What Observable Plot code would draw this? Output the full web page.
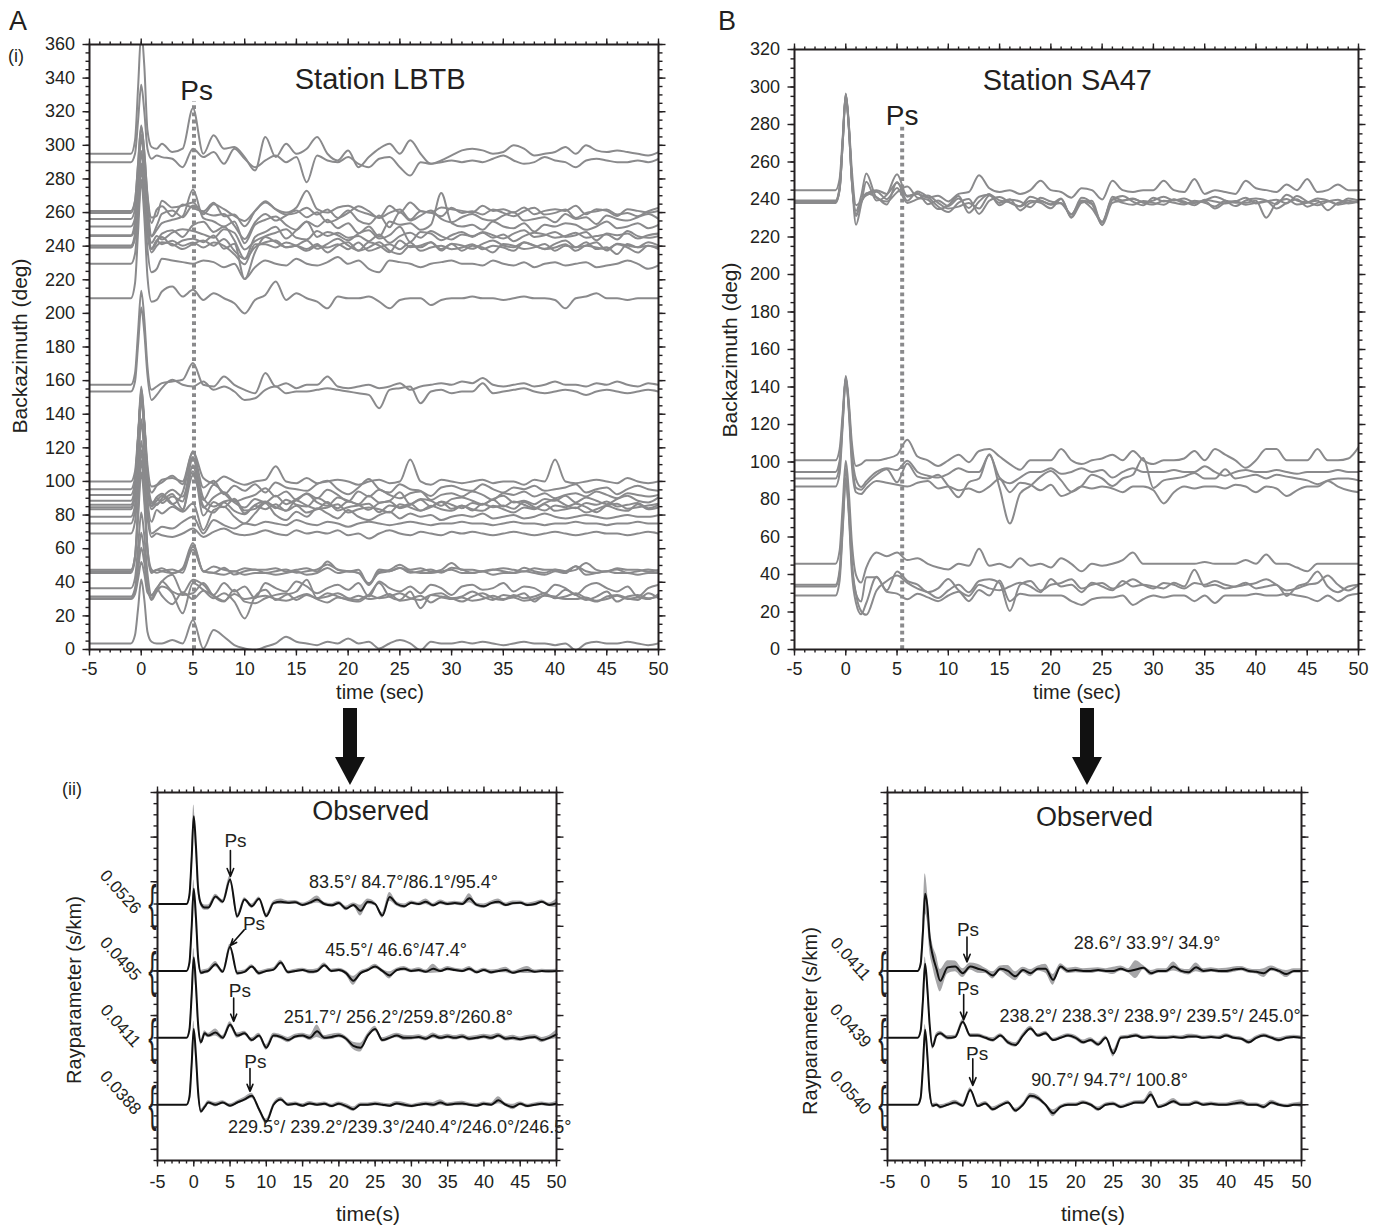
<!DOCTYPE html>
<html>
<head>
<meta charset="utf-8">
<script src="https://cdn.jsdelivr.net/npm/d3@7"></script>
<script src="https://cdn.jsdelivr.net/npm/@observablehq/plot@0.6"></script>
<style>
html,body{margin:0;padding:0;background:#fff;}
#root{position:relative;width:1381px;height:1226px;overflow:hidden;background:#fff;font-family:"Liberation Sans",Arial,Helvetica,sans-serif;color:#231f20;}
.pl{position:absolute;}
.pl svg{max-width:none !important;}
.lab{position:absolute;white-space:nowrap;line-height:1;}
.shaft{position:absolute;background:#111;}
.head{position:absolute;width:0;height:0;border-left:15px solid transparent;border-right:15px solid transparent;border-top:28px solid #111;}
</style>
</head>
<body>
<div id="root"></div>
<script>
// ---------------- time samples (s) ----------------
const G = [-5,-1,-0.6,-0.3,0,0.3,0.6,1,1.5,2,3,4,5,6,7,8,9,10,11,12,13,14,15,16,17,18,19,20,21,22,23,24,25,26,27,28,29,30,31,32,33,34,35,36,37,38,39,40,41,42,43,44,45,46,47,48,49,50];

// ---------------- Panel A(i): station LBTB, deviations (deg) from back-azimuth ----------------
const A_bases = [295,290,261,259.8,256.2,251.7,246.5,246,240.4,239.3,239.2,229.5,209,157.5,153.5,100,95.4,92,88.5,86.1,84.7,83.5,79,75,69,47.4,46.6,45.5,36.5,31.5,30.5,30,3.6];
const A_295 = [0,0,8,40,72,52,14,4,3, 6,1,3,27,0,11,3,4,-2,-10, 10,-2,6,0,3,10,0,-4,2,-8, -2,3,6,0,8,0,-6,-4,-1,2, 3,2,0,1,5,3,-1,0,1,4, 0,5,2,1,2,1,0,-1,1];
const A_290 = [0,0,5,25,46,30,8,2,4, 3,2,-3,8,3,6,-1,8,2,-3, 1,4,0,3,-12,4,1,0,3,-1, -3,2,3,-3,-8,0,-1,0,1,0, 1,0,2,4,1,-1,0,3,1,0, -3,1,2,1,0,0,1,0,2];
const A_261 = [0,0,6,28,50,35,10,-4,-3, 6,2,3,5,-2,4,1,-3,-6,0, 5,1,-1,2,12,1,-1,2,3,0, -2,-4,3,-1,5,0,-1,2,1,0, -1,3,0,1,-1,2,-2,0,1,0, 3,-2,1,0,-3,1,0,-1,0];
const A_260 = [0,0,7,30,52,36,10,-6,2, 4,-2,5,3,1,6,-2,-1,-8,1, 7,2,-1,0,3,-1,2,-3,0,4, 1,-3,0,2,-4,1,0,-2,3,0, 1,-1,2,0,-2,1,3,-1,0,2, -3,0,1,2,-1,0,-2,1,3];
const A_256 = [0,0,6,27,48,33,9,-10,-4, 3,5,1,8,4,2,3,-4,-12,-2, 3,-1,2,5,1,4,-2,0,5,-1, -3,2,-5,4,-1,2,5,0,-2,1, 3,0,-1,2,4,-1,0,1,-2,3, 0,1,-3,2,0,-1,1,3,0];
const A_252 = [0,0,5,25,45,31,8,-6,-2, 2,4,6,22,5,3,0,3,-10,1, 4,6,1,-2,3,0,4,-1,2,-4, 0,-6,3,1,2,-2,1,20,2,0, 1,-2,3,0,-1,2,-3,1,0,2, 1,-2,0,3,-1,0,2,-1,1];
const A_2465 = [0,0,8,34,60,42,12,-8,-4, 1,3,-1,6,8,2,5,-3,-14,-1, 2,5,-2,3,8,-1,2,0,-3,1, 3,-2,0,5,-4,2,1,-3,0,2, -1,2,0,-2,1,3,-1,0,2,-1, 0,2,-3,1,0,1,-2,0,1];
const A_246 = [0,0,5,22,40,28,8,-4,0, -2,2,4,3,1,-1,4,2,-8,-3, 0,2,4,-1,-2,3,0,2,-1,0, -3,1,-4,0,2,-1,3,0,-2,1, 0,2,-1,1,-3,0,2,1,-1,0, 2,-1,0,1,-2,3,0,-1,0];
const A_2404 = [0,0,7,31,55,38,11,-2,3, 5,0,3,4,2,6,-2,1,-20,-4, 5,2,-1,0,3,-2,1,4,0,-3, 2,0,-4,3,-1,0,2,-3,1,0, -2,1,3,0,-1,2,0,-2,1,3, -1,0,2,-3,1,0,-1,2,0];
const A_2393 = [0,0,6,25,45,31,9,-3,1, 3,2,-1,2,4,1,5,-2,-7,0, 3,4,0,1,-1,2,-3,1,3,-2, 0,3,-2,-4,1,0,3,-1,2,-2, 1,0,-3,2,1,-1,0,2,-2,1, 0,3,-1,0,-4,2,0,1,-1];
const A_2392 = [0,0,6,28,50,35,10,-1,4, 2,4,1,3,0,3,1,-4,-10,2, 2,0,3,1,-2,1,0,2,-1,3, -2,0,2,-1,3,-2,0,1,-1,0, 2,-1,1,0,-2,3,1,-1,0,2, -2,1,0,-1,2,0,-3,1,0];
const A_2295 = [0,0,6,28,50,35,9,-5,-3, 3,2,1,0,2,1,-2,0,-9,-2, 2,0,-1,3,0,-1,1,4,0,2, -3,-5,2,1,0,-2,0,1,2,0, 0,-1,2,0,-1,1,-2,0,1,-1, 0,1,-2,-1,0,2,0,-3,-1];
const A_209 = [0,0,9,40,70,48,13,-2,-1, 4,7,1,5,-1,3,0,-3,-9,-1, 2,10,-1,3,0,-2,-6,1,0,0, 1,-2,-6,-1,0,0,-4,-1,0,0, 1,0,0,-1,0,1,0,0,-1,-6, 0,1,3,0,0,-1,0,0,0];
const A_157 = [0,0,7,32,56,39,11,-3,-1, 1,2,3,13,0,-1,5,0,-3,-5, 7,-1,1,-2,0,0,5,-1,-2,-1, 0,-2,-1,1,-3,-1,0,1,0,2, 1,4,0,-1,0,1,-1,0,2,0, 0,-1,1,0,2,0,-1,1,0];
const A_153 = [0,0,6,28,50,35,10,-5,-2, 2,7,4,3,6,1,3,0,-5,-4, 1,3,-1,0,0,1,2,1,0,-1, -2,-10,1,2,3,-7,0,1,-1,0, 0,5,-1,0,1,2,0,-1,0,1, 0,-2,0,1,0,-1,0,1,0];
const A_100 = [0,0,6,28,50,35,10,-3,-2, 1,2,0,18,2,-1,3,0,-2,0, 1,9,0,-1,2,-1,0,1,0,-2, 0,1,-1,0,13,0,-2,1,0,-1, 0,1,-1,0,0,-2,1,0,13,0, -1,0,1,0,-1,2,0,-1,0];
const A_954 = [0,0,7,31,55,38,11,-2,2, 4,8,3,22,1,5,-3,2,-1,3, -2,4,1,0,-1,3,5,0,-3,1, 6,0,-2,3,0,-1,-4,1,2,0, -1,3,0,-2,1,0,2,-1,0,1, 3,-2,0,1,-3,0,2,0,-1];
const A_92 = [0,0,8,34,60,42,12,-4,-6, -2,3,-1,14,-3,6,1,-4,-2,0, 4,-1,2,-3,1,-2,3,0,-4,2, -1,3,0,-2,1,2,-3,0,1,-1, 2,0,-3,1,0,2,-1,1,-2,0, 1,-1,2,0,-2,1,0,-1,0];
const A_885 = [0,0,9,38,68,47,13,-3,0, 3,-2,5,26,-4,2,5,-1,-4,1, -1,3,-2,1,4,-1,-3,2,0,-2, 3,-1,0,5,-2,1,0,-3,1,2, 0,-2,1,3,-1,0,-2,1,0,3, -1,2,0,-2,1,3,0,-1,2];
const A_861 = [0,0,8,35,62,43,12,-1,4, 1,5,2,28,4,-1,2,3,-5,0, 2,-2,3,0,-1,4,1,-2,2,0, -3,1,2,-2,0,3,-1,2,0,-2, 1,0,3,-1,2,0,-2,1,3,0, -2,1,0,2,-1,0,1,-2,0];
const A_847 = [0,0,9,39,70,49,14,2,6, 8,2,-2,25,-5,3,0,5,-2,-1, 3,0,-2,4,1,-1,3,-2,0,1, 2,-3,1,0,2,-2,0,3,-1,1, -2,2,0,1,-1,3,0,-2,1,0, 2,0,-3,1,2,-1,0,1,2];
const A_835 = [0,0,8,37,66,46,13,0,3, 5,9,0,20,2,-2,4,-1,-3,2, 0,3,-1,2,-2,0,1,3,-2,0, 1,0,-2,3,1,-1,2,0,-1,2, 0,-1,2,0,-2,1,0,3,-1,0, 1,-2,0,2,0,-1,3,0,1];
const A_79 = [0,0,7,32,58,40,11,-3,4, 2,6,3,8,-8,4,6,0,-4,2, 8,1,-2,3,0,5,2,-1,4,0, -2,1,3,-1,2,0,1,-2,0,1, 0,2,-1,0,1,-1,0,2,0,-1, 0,1,0,-1,0,1,0,0,1];
const A_75 = [0,0,8,34,60,42,12,-6,-4, -2,-3,1,4,-6,2,-1,-3,0,-1, 1,0,-1,2,0,-1,1,0,-2,0, 1,0,-1,0,1,0,-1,0,0,1, 0,0,-1,0,1,0,0,-1,0,0, 1,0,0,-1,0,0,1,0,0];
const A_69 = [0,0,7,31,55,38,10,-2,0, -1,-2,0,3,-2,1,3,0,-1,0, 2,0,-1,2,0,1,0,2,-1,0, -3,0,2,0,-1,1,0,-1,1,0, 1,0,-1,0,1,0,-1,0,1,0, -1,0,1,0,0,-1,0,1,0];
const A_474 = [0,0,8,36,65,45,13,-1,0, 1,-2,1,16,-1,2,0,-1,1,0, 0,1,-1,0,1,-1,5,0,-1,0, -9,-1,0,3,0,1,-1,0,4,0, 0,-1,0,1,0,-1,1,0,0,-1, 0,4,0,-1,1,0,0,-1,0];
const A_466 = [0,0,9,40,72,50,14,1,-1, 0,1,-1,15,0,-1,2,-2,0,1, -1,0,1,-1,0,1,4,1,0,-1, -8,1,0,2,-1,0,1,-1,2,1, -1,0,1,0,-1,2,0,-1,1,0, 3,0,-1,0,1,-1,0,1,0];
const A_455 = [0,0,8,33,60,42,12,0,2, 1,0,2,14,1,0,-1,1,-1,0, 0,-1,0,1,-1,0,3,0,1,0, -6,0,1,3,1,0,0,1,2,0, 0,1,-1,0,0,1,0,-1,1,0, 4,-1,0,1,0,0,-1,0,0];
const A_365 = [0,0,6,25,45,31,9,-4,0, 4,8,-3,5,2,-4,3,-2,1,-6, 3,0,-2,4,1,-3,0,2,-1,3, -5,4,0,-2,1,-3,2,0,-4,1, 2,-1,0,3,-2,1,0,-3,2,0, -4,1,3,0,-2,1,-5,0,2];
const A_315 = [0,0,5,21,38,26,7,-2,3, 6,2,-10,8,4,-1,2,-3,-13,0, 4,-2,1,3,10,-1,2,0,-2,-3, 1,8,0,-2,3,-7,1,2,-1,0, 3,0,-2,1,0,2,-3,1,0,4, 1,-2,0,3,-3,0,1,-1,0];
const A_305 = [0,0,4,17,30,21,6,0,5, 10,4,2,3,9,1,-2,5,-2,-3, 0,2,3,-1,2,0,1,3,0,-1, 2,0,1,3,0,-1,2,1,0,-2, 1,3,0,-1,2,0,1,3,0,1, 3,0,-2,1,2,0,-1,3,0];
const A_30 = [0,0,3,12,22,15,4,2,6, 2,-3,4,0,5,2,-1,3,0,1, 2,0,-1,1,3,0,-2,1,0,2, 0,1,3,-1,0,2,-2,1,0,1, -1,0,2,0,1,-1,0,2,1,0, 0,1,-1,0,2,0,1,0,3];
const A_4 = [0,0,5,21,38,26,7,1,0, 0,2,0,14,-3,8,4,-1,-3,-4, -2,0,4,1,0,-1,1,0,3,0, 1,-3,0,2,0,-4,1,0,0,1, 0,1,0,-1,0,1,0,0,-1,0, -4,0,1,0,0,1,0,-1,0];
const A_traces = [A_295,A_290,A_261,A_260,A_256,A_252,A_2465,A_246,A_2404,A_2393,A_2392,A_2295,A_209,A_157,A_153,A_100,A_954,A_92,A_885,A_861,A_847,A_835,A_79,A_75,A_69,A_474,A_466,A_455,A_365,A_315,A_305,A_30,A_4];

// ---------------- Panel B(i): station SA47 ----------------
const B_bases = [245,239.5,238.9,238.3,238.2,100.9,94.7,91.2,86.9,45.7,34.5,33.6,28.8];
const B_245 = [0,0,6,28,51,35,10,-8,-6, -2,0,-2,4,-3,-2,-4,-3,-6,-2, -1,8,1,-1,0,-2,0,5,0,-1, -4,1,0,-5,5,0,-1,0,0,5, 0,-1,6,-2,0,-1,-2,5,1,0, -1,3,0,6,-1,0,3,0,0];
const B_2395 = [0,0,7,32,57,40,11,-13,-2, 10,0,3,14,2,4,-2,0,-3,1, -4,2,3,0,-1,-3,2,0,-2,1, -9,0,-2,-13,2,0,1,-1,0,2, 0,1,-1,0,2,0,-3,0,1,0, -2,3,0,-1,1,0,-2,1,0];
const B_2389 = [0,0,7,31,56,39,11,-5,3, 15,2,0,5,8,2,1,-4,-2,3, -6,0,4,-2,1,0,-3,2,0,-1, -7,2,-1,-11,1,3,0,-2,2,0, 1,0,-2,1,0,-1,0,2,-1,0, 1,-1,3,0,-2,0,1,-1,0];
const B_2383 = [0,0,7,32,57,40,11,-6,0, 5,3,-1,11,1,6,3,-2,-5,0, 2,-6,1,3,0,-2,1,0,-3,2, -8,0,1,-12,0,1,2,0,-1,1, 0,-1,1,0,-2,1,0,0,1,-8, 0,2,-1,0,1,-4,0,1,0];
const B_2382 = [0,0,7,32,58,40,11,-7,1, 4,6,2,8,0,2,4,0,-3,-2, 0,-3,4,0,2,-4,0,1,-1,0, -6,1,-3,-10,2,0,-1,1,0,-1, 2,0,0,1,-3,0,1,-1,0,1, -3,0,2,-2,0,1,-1,0,1];
const B_1009 = [0,0,6,25,45,31,9,-3,-2, 0,0,1,3,11,2,0,-3,0,3, -1,5,6,2,-2,-5,0,0,0,6, 0,-2,0,1,3,0,5,0,-2,0, 0,1,5,0,6,3,0,-4,0,6, 6,0,0,0,6,0,0,1,7];
const B_947 = [0,0,6,28,50,35,10,-4,-8, -5,0,2,1,6,0,-2,-3,-1,2, 0,0,9,-3,-6,-3,0,0,2,-1, 0,2,0,1,-3,0,2,0,0,0, 1,0,0,3,0,-2,0,1,0,0, 1,0,-1,0,0,0,1,0,0];
const B_912 = [0,0,7,30,54,37,11,-5,-6, -3,2,5,-2,8,1,0,2,-4,-10, -2,0,13,-5,-24,-8,-4,1,4,-1, -7,-4,2,0,-4,0,2,11,-5,-1, 0,1,3,0,0,5,0,1,2,0, 2,1,0,-1,-3,-1,0,0,-1];
const B_869 = [0,0,7,33,58,40,11,-3,-4, -1,3,2,1,0,2,3,-1,0,-2, -1,-3,0,4,-3,2,1,-2,1,-5, -3,0,-1,0,-1,-3,0,0,-2,-9, -3,0,-1,0,0,-1,1,0,-3,0, -1,-5,-2,0,0,3,0,-2,-3];
const B_457 = [0,0,7,31,55,38,11,-6,-10, -2,6,4,6,2,3,0,-2,-3,0, -1,8,-1,0,-2,3,-1,0,-2,3, 0,-4,0,-1,0,2,6,0,0,0, 0,0,0,1,0,0,0,2,0,5, 0,0,-2,-4,0,0,0,0,0];
const B_345 = [0,0,8,35,62,43,12,-5,-14, -16,-3,2,5,1,-2,-4,-7,-3,0, -4,2,3,1,-14,0,2,-3,0,1, 3,-2,0,1,-2,0,3,0,-2,1, 0,-2,1,0,2,0,-1,0,1,3, 0,-3,-2,0,1,5,0,-3,0];
const B_336 = [0,0,7,32,58,40,11,-4,-8, 5,5,-2,8,3,1,-3,-1,4,-2, -5,1,-1,-2,0,2,0,-3,4,0, 1,-3,2,0,-2,3,0,1,0,-1, 2,0,9,0,1,-1,0,2,-1,0, 1,-5,0,2,8,0,-3,0,1];
const B_288 = [0,0,8,35,62,43,12,-4,-10, -4,10,2,1,-2,1,-1,-3,0,2, -3,3,0,8,-3,1,0,0,0,0, -3,-5,-2,-1,-1,0,-5,-2,0,-1, 0,0,-3,0,-4,0,0,0,1,0, 0,1,0,-1,-3,0,-3,0,1];
const B_traces = [B_245,B_2395,B_2389,B_2383,B_2382,B_1009,B_947,B_912,B_869,B_457,B_345,B_336,B_288];

// ---------------- Panel A(ii): observed stacks (trace units), offsets and spreads ----------------
const L_offsets = [5.5,4,2.5,1];
const L_rayp = ["0.0526","0.0495","0.0411","0.0388"];
const L_1 = [0,0,0.2,1.0,1.97,1.3,0.35,0,-0.08, -0.08,0.17,0.05,0.55,-0.28,0.1,-0.05,0.12,-0.27,0.02, 0.05,0.03,0.04,-0.02,0.03,0.1,0,-0.03,0.02,-0.1, -0.02,-0.15,0.05,0,-0.26,0.16,0,-0.05,0.03,0, 0.05,-0.03,0.04,0,0.02,0,0.13,-0.02,-0.05,0.02, 0.05,-0.02,0.02,0.03,-0.02,0,0.05,-0.02,0.02];
const L_2 = [0,0,0.18,0.95,1.84,1.2,0.3,-0.04,-0.02, 0,0.15,-0.02,0.54,-0.05,-0.02,0.1,-0.05,0,0.03, 0.19,-0.03,0,0.02,-0.02,0,0.13,0,0.02,-0.05, -0.22,-0.05,0.02,0.1,0,-0.1,0.02,0.05,0,0.02, -0.02,0.05,0,0.05,0.02,0,0.05,-0.03,0.02,-0.03, 0,0.02,-0.04,0,0.02,-0.02,0,-0.01,0];
const L_3 = [0,0,0.18,0.93,1.8,1.18,0.3,-0.1,0.1, 0.05,0.12,0,0.3,0.05,0.1,-0.05,0.05,-0.22,0.05, 0.02,-0.05,0.03,0.05,0,0.15,0,0.02,0.05,-0.02, -0.18,-0.22,0.05,0.2,-0.05,0,0.05,0,0,0.02, -0.02,0.05,0,0.03,0,0.03,-0.02,0,0.03,0, 0.05,-0.02,0,-0.03,0,0.02,-0.05,0,0.08];
const L_4 = [0,0,0.17,0.88,1.7,1.1,0.28,-0.15,-0.05, 0.05,0,0.05,-0.02,0.05,0.12,0.2,-0.1,-0.38,0, 0.12,0,0.02,-0.02,0.03,0,0.02,-0.03,0.02,-0.03, -0.1,0,0,0.02,0,-0.02,0.03,0,-0.03,0, 0.02,0,0.05,0,0.02,0.03,0,-0.02,0.02,0, 0.1,0,-0.05,0.02,-0.03,0,0.02,0,0.02];
const L_S1 = [0,0,0.03,0.1,0.25,0.2,0.1,0.06,0.06, 0.06,0.05,0.05,0.08,0.05,0.04,0.05,0.04,0.05,0.04, 0.06,0.04,0.04,0.04,0.05,0.08,0.04,0.04,0.04,0.05, 0.04,0.12,0.06,0.04,0.06,0.1,0.05,0.05,0.04,0.04, 0.06,0.04,0.05,0.04,0.04,0.04,0.1,0.04,0.05,0.04, 0.06,0.04,0.05,0.04,0.04,0.05,0.04,0.04,0.1];
const L_S2 = [0,0,0.03,0.1,0.2,0.15,0.08,0.05,0.05, 0.05,0.06,0.04,0.06,0.05,0.04,0.04,0.05,0.04,0.04, 0.05,0.04,0.04,0.04,0.05,0.05,0.05,0.04,0.04,0.05, 0.1,0.05,0.04,0.05,0.04,0.08,0.04,0.05,0.04,0.05, 0.04,0.1,0.04,0.05,0.04,0.04,0.05,0.04,0.04,0.05, 0.04,0.06,0.04,0.05,0.08,0.04,0.04,0.04,0.04];
const L_S3 = [0,0,0.03,0.1,0.2,0.15,0.08,0.06,0.06, 0.05,0.08,0.05,0.06,0.06,0.05,0.05,0.05,0.06,0.05, 0.05,0.06,0.05,0.05,0.06,0.14,0.05,0.06,0.05,0.05, 0.08,0.1,0.05,0.06,0.05,0.05,0.05,0.06,0.05,0.05, 0.05,0.06,0.05,0.05,0.05,0.05,0.05,0.05,0.05,0.06, 0.05,0.05,0.06,0.05,0.05,0.05,0.06,0.05,0.1];
const L_S4 = [0,0,0.03,0.1,0.18,0.14,0.08,0.05,0.04, 0.04,0.05,0.04,0.04,0.04,0.05,0.06,0.05,0.06,0.04, 0.05,0.04,0.04,0.04,0.04,0.04,0.04,0.04,0.04,0.05, 0.05,0.04,0.04,0.04,0.04,0.04,0.04,0.05,0.04,0.04, 0.04,0.05,0.06,0.04,0.04,0.05,0.04,0.04,0.04,0.04, 0.08,0.04,0.06,0.04,0.04,0.04,0.04,0.04,0.05];
const L_traces = [L_1,L_2,L_3,L_4];
const L_spreads = [L_S1,L_S2,L_S3,L_S4];
const L_baz = ["83.5°/ 84.7°/86.1°/95.4°","45.5°/ 46.6°/47.4°","251.7°/ 256.2°/259.8°/260.8°","229.5°/ 239.2°/239.3°/240.4°/246.0°/246.5°"];
const L_bazPos = [{t:28.9,v:5.98},{t:27.9,v:4.46},{t:28.2,v:2.96},{t:28.4,v:0.49}];
const L_psLabel = [{t:5.75,v:6.92},{t:8.3,v:5.06},{t:6.35,v:3.56},{t:8.5,v:1.97}];
const L_psArrow = [{t1:5.05,v1:6.7,t2:5.05,v2:6.12},{t1:6.95,v1:4.92,t2:5.05,v2:4.57},{t1:5.5,v1:3.39,t2:5.5,v2:2.87},{t1:7.75,v1:1.81,t2:7.75,v2:1.3}];

// ---------------- Panel B(ii) ----------------
const R_offsets = [4,2.5,1];
const R_rayp = ["0.0411","0.0439","0.0540"];
const R_1 = [0,0,0.15,0.85,1.73,1.45,0.75,0.35,0.05, -0.22,0.08,0.1,-0.05,0.1,0.05,0,-0.1,0.05,0, -0.12,0.02,-0.05,0.05,0.05,-0.2,0.1,0,0.02,0, 0,0.02,0,0,0.05,0,0.03,0.07,-0.05,0, 0,0.1,0,-0.03,0.08,0,0.02,0,0,0.03, 0.05,0,-0.02,-0.05,0.05,0,-0.07,0,0];
const R_2 = [0,0,0.15,0.82,1.66,1.1,0.3,-0.2,0.05, 0.1,0,0.02,0.36,0.05,0.05,0,-0.05,0.05,-0.1, -0.16,0.05,0.21,0.05,0.1,-0.05,0,0.05,0,-0.1, -0.05,-0.15,0,-0.35,0,0.02,0.05,0,0.02,0, 0,0.02,0,0.03,0.03,0,0.02,0,0.05,0, -0.02,-0.1,0,0.05,0,-0.05,0,0.02,0];
const R_3 = [0,0,0.15,0.83,1.68,1.1,0.28,-0.02,0, -0.05,0,0.05,-0.02,0.33,-0.03,0.03,-0.1,-0.02,0.05, -0.13,0,0.2,0.15,0,-0.19,-0.05,0,0,0.05, 0,-0.1,0,0.02,-0.05,0,0.05,0.05,0.23,-0.05, 0,0.08,0,0,0.05,0,0.02,0,0,0.03, 0.05,0,0,-0.05,0.05,0,-0.03,0,0];
const R_S1 = [0,0,0.05,0.2,0.45,0.35,0.3,0.25,0.3, 0.25,0.15,0.12,0.1,0.08,0.1,0.06,0.08,0.06,0.12, 0.1,0.06,0.08,0.06,0.1,0.12,0.06,0.06,0.06,0.05, 0.06,0.05,0.05,0.08,0.06,0.05,0.2,0.05,0.06,0.05, 0.05,0.1,0.05,0.06,0.1,0.05,0.05,0.05,0.06,0.06, 0.05,0.05,0.05,0.1,0.06,0.05,0.08,0.05,0.05];
const R_S2 = [0,0,0.03,0.1,0.15,0.12,0.08,0.06,0.05, 0.05,0.05,0.04,0.05,0.04,0.04,0.04,0.05,0.04,0.05, 0.05,0.05,0.05,0.04,0.05,0.04,0.04,0.04,0.05,0.05, 0.05,0.05,0.04,0.08,0.04,0.04,0.04,0.04,0.04,0.04, 0.04,0.04,0.04,0.05,0.04,0.04,0.04,0.04,0.04,0.04, 0.04,0.05,0.04,0.04,0.04,0.05,0.04,0.04,0.04];
const R_S3 = [0,0,0.03,0.1,0.12,0.1,0.06,0.05,0.04, 0.05,0.04,0.05,0.04,0.05,0.04,0.04,0.05,0.04,0.04, 0.05,0.04,0.06,0.06,0.04,0.08,0.04,0.04,0.04,0.04, 0.04,0.05,0.04,0.04,0.04,0.04,0.04,0.05,0.07,0.04, 0.04,0.06,0.04,0.04,0.04,0.04,0.04,0.04,0.04,0.05, 0.06,0.04,0.04,0.05,0.05,0.04,0.04,0.04,0.06];
const R_traces = [R_1,R_2,R_3];
const R_spreads = [R_S1,R_S2,R_S3];
const R_baz = ["28.6°/ 33.9°/ 34.9°","238.2°/ 238.3°/ 238.9°/ 239.5°/ 245.0°","90.7°/ 94.7°/ 100.8°"];
const R_bazPos = [{t:29.5,v:4.61},{t:29.9,v:2.98},{t:24.5,v:1.56}];
const R_psLabel = [{t:5.7,v:4.92},{t:5.7,v:3.6},{t:6.9,v:2.14}];
const R_psArrow = [{t1:5.56,v1:4.76,t2:5.56,v2:4.2},{t1:5.12,v1:3.47,t2:5.12,v2:2.9},{t1:6.33,v1:2.03,t2:6.33,v2:1.43}];

// ---------------- annotations for the top panels ----------------
const A_psLine = [{t:5.1,y1:0,y2:326}];
const B_psLine = [{t:5.5,y1:0,y2:279.5}];
const A_title = [{t:23.1,v:339,s:"Station LBTB"}];
const B_title = [{t:21.6,v:303.5,s:"Station SA47"}];
const A_ps = [{t:5.35,v:332.3,s:"Ps"}];
const B_ps = [{t:5.5,v:284.3,s:"Ps"}];

// ---------------- helpers ----------------
const FONT = '"Liberation Sans", Arial, Helvetica, sans-serif';
const INK = "#231f20";
const GRAY = "#8a8a8c";
const blank = () => "";
const xMaj = [-5,0,5,10,15,20,25,30,35,40,45,50];
const xMin = d3.range(-5, 51, 1);

function axesMarks(yMaj, yMin, yLabels, xPad) {
  const c = {label: null, stroke: INK, strokeWidth: 1.4};
  return [
    Plot.axisX(xMaj, {...c, anchor: "bottom", tickSize: 6.5, tickPadding: xPad, tickFormat: d => String(d), fontSize: 18}),
    Plot.axisX(xMin, {...c, anchor: "bottom", tickSize: 3.5, tickFormat: blank}),
    Plot.axisX(xMaj, {...c, anchor: "top", tickSize: 6.5, tickFormat: blank}),
    Plot.axisX(xMin, {...c, anchor: "top", tickSize: 3.5, tickFormat: blank}),
    Plot.axisY(yMaj, {...c, anchor: "left", tickSize: 6.5, tickPadding: 8, tickFormat: yLabels ? (d => String(d)) : blank, fontSize: 18}),
    Plot.axisY(yMin, {...c, anchor: "left", tickSize: 3.5, tickFormat: blank}),
    Plot.axisY(yMaj, {...c, anchor: "right", tickSize: 6.5, tickFormat: blank}),
    Plot.axisY(yMin, {...c, anchor: "right", tickSize: 3.5, tickFormat: blank}),
    Plot.frame({stroke: INK, strokeWidth: 2})
  ];
}

function topPanel(o) {
  const rows = [];
  o.traces.forEach((vals, i) => vals.forEach((d, j) => {
    if (j < G.length) rows.push({id: i, t: G[j], v: o.bases[i] + d});
  }));
  return Plot.plot({
    width: o.width, height: 720,
    marginLeft: o.ml, marginRight: o.mr, marginTop: o.mt, marginBottom: 71,
    style: {fontFamily: FONT, fontSize: "18px", color: INK, background: "transparent"},
    x: {domain: [-5, 50]},
    y: {domain: [0, o.yMax]},
    marks: [
      Plot.ruleX(o.psLine, {x: "t", y1: "y1", y2: "y2", stroke: GRAY, strokeWidth: 4, strokeDasharray: "3.8,3.4"}),
      Plot.line(rows, {x: "t", y: "v", z: "id", stroke: GRAY, strokeWidth: 2, curve: "monotone-x", clip: true}),
      Plot.text(o.title, {x: "t", y: "v", text: "s", fontSize: 29, fill: INK}),
      Plot.text(o.ps, {x: "t", y: "v", text: "s", fontSize: 28, fill: INK}),
      ...axesMarks(d3.range(0, o.yMax + 1, 20), d3.range(0, o.yMax + 1, 5), true, 6)
    ]
  });
}

function bottomPanel(o) {
  const rows = [];
  o.traces.forEach((vals, i) => vals.forEach((d, j) => {
    if (j < G.length) {
      const s = o.spreads[i][j] ?? 0.04;
      const v = o.offsets[i] + d;
      rows.push({id: i, t: G[j], v, lo: v - s, hi: v + s});
    }
  }));
  const raypRows = o.rayp.map((s, i) => ({v: o.offsets[i], s}));
  const bazRows = o.baz.map((s, i) => ({...o.bazPos[i], s}));
  const svg = Plot.plot({
    width: o.width, height: 466,
    marginLeft: o.ml, marginRight: o.mr, marginTop: 32, marginBottom: 66,
    style: {fontFamily: FONT, fontSize: "18px", color: INK, background: "transparent"},
    x: {domain: [-5, 50]},
    y: {domain: [-0.25, 8]},
    marks: [
      Plot.areaY(rows, {x: "t", y1: "lo", y2: "hi", z: "id", fill: "#a6a6a8", curve: "monotone-x"}),
      Plot.line(rows, {x: "t", y: "v", z: "id", stroke: "#111", strokeWidth: 2, curve: "monotone-x"}),
      Plot.text(o.title, {x: "t", y: "v", text: "s", fontSize: 27, fill: INK}),
      Plot.text(bazRows, {x: "t", y: "v", text: "s", fontSize: 18, fill: INK}),
      Plot.text(o.psLabel, {x: "t", y: "v", text: () => "Ps", fontSize: 19, fill: INK}),
      Plot.arrow(o.psArrow, {x1: "t1", y1: "v1", x2: "t2", y2: "v2", stroke: "#111", strokeWidth: 1.6, headLength: 8, headAngle: 45}),
      Plot.text(raypRows, {y: "v", text: "s", frameAnchor: "left", textAnchor: "middle", dx: -37, dy: -12, rotate: 48, fontSize: 17, fill: INK}),
      Plot.text(raypRows, {y: "v", text: () => "{", frameAnchor: "left", textAnchor: "end", dx: -1, fontSize: 50, fill: INK}),
      ...axesMarks(d3.range(0, 9, 1), d3.range(-0.25, 8.01, 0.25), false, 8)
    ]
  });
  svg.querySelectorAll("text").forEach(t => {
    if (t.textContent === "{") t.setAttribute("transform", (t.getAttribute("transform") || "") + " scale(0.5,1)");
  });
  return svg;
}

// ---------------- assemble ----------------
const root = document.getElementById("root");
function place(node, left, top, width) {
  const d = document.createElement("div");
  d.className = "pl";
  d.style.left = left + "px"; d.style.top = top + "px"; d.style.width = width + "px";
  d.appendChild(node);
  root.appendChild(d);
}
function label(text, cx, cy, size, rot) {
  const d = document.createElement("div");
  d.className = "lab";
  d.textContent = text;
  d.style.left = cx + "px"; d.style.top = cy + "px"; d.style.fontSize = size + "px";
  d.style.transform = "translate(-50%,-50%)" + (rot ? ` rotate(${rot}deg)` : "");
  root.appendChild(d);
}
function bigArrow(cx) {
  const s = document.createElement("div");
  s.className = "shaft";
  s.style.left = (cx - 7) + "px"; s.style.top = "708px"; s.style.width = "14px"; s.style.height = "52px";
  root.appendChild(s);
  const h = document.createElement("div");
  h.className = "head";
  h.style.left = (cx - 15) + "px"; h.style.top = "757px";
  root.appendChild(h);
}

place(topPanel({traces: A_traces, bases: A_bases, yMax: 360, width: 680, ml: 89, mr: 22, mt: 44,
  psLine: A_psLine, title: A_title, ps: A_ps}), 0, 0, 680);
place(topPanel({traces: B_traces, bases: B_bases, yMax: 320, width: 681, ml: 94, mr: 23, mt: 49,
  psLine: B_psLine, title: B_title, ps: B_ps}), 700, 0, 681);
place(bottomPanel({traces: L_traces, spreads: L_spreads, offsets: L_offsets, rayp: L_rayp, baz: L_baz, bazPos: L_bazPos,
  psLabel: L_psLabel, psArrow: L_psArrow, title: [{t:24.4, v:7.57, s:"Observed"}], width: 560, ml: 117, mr: 44}), 40, 760, 560);
place(bottomPanel({traces: R_traces, spreads: R_spreads, offsets: R_offsets, rayp: R_rayp, baz: R_baz, bazPos: R_bazPos,
  psLabel: R_psLabel, psArrow: R_psArrow, title: [{t:22.5, v:7.44, s:"Observed"}], width: 621, ml: 127, mr: 80}), 760, 760, 621);

label("A", 18, 21, 27);
label("(i)", 16, 56, 18);
label("B", 727, 21, 27);
label("(ii)", 72, 789, 18);
label("Backazimuth (deg)", 19, 346, 21, -90);
label("Backazimuth (deg)", 729, 350, 21, -90);
label("time (sec)", 380, 692, 20);
label("time (sec)", 1077, 692, 20);
label("Rayparameter (s/km)", 74, 990, 20, -90);
label("Rayparameter (s/km)", 810, 1021, 20, -90);
label("time(s)", 368, 1213, 21);
label("time(s)", 1093, 1213, 21);
bigArrow(350);
bigArrow(1087);
</script>
</body>
</html>
